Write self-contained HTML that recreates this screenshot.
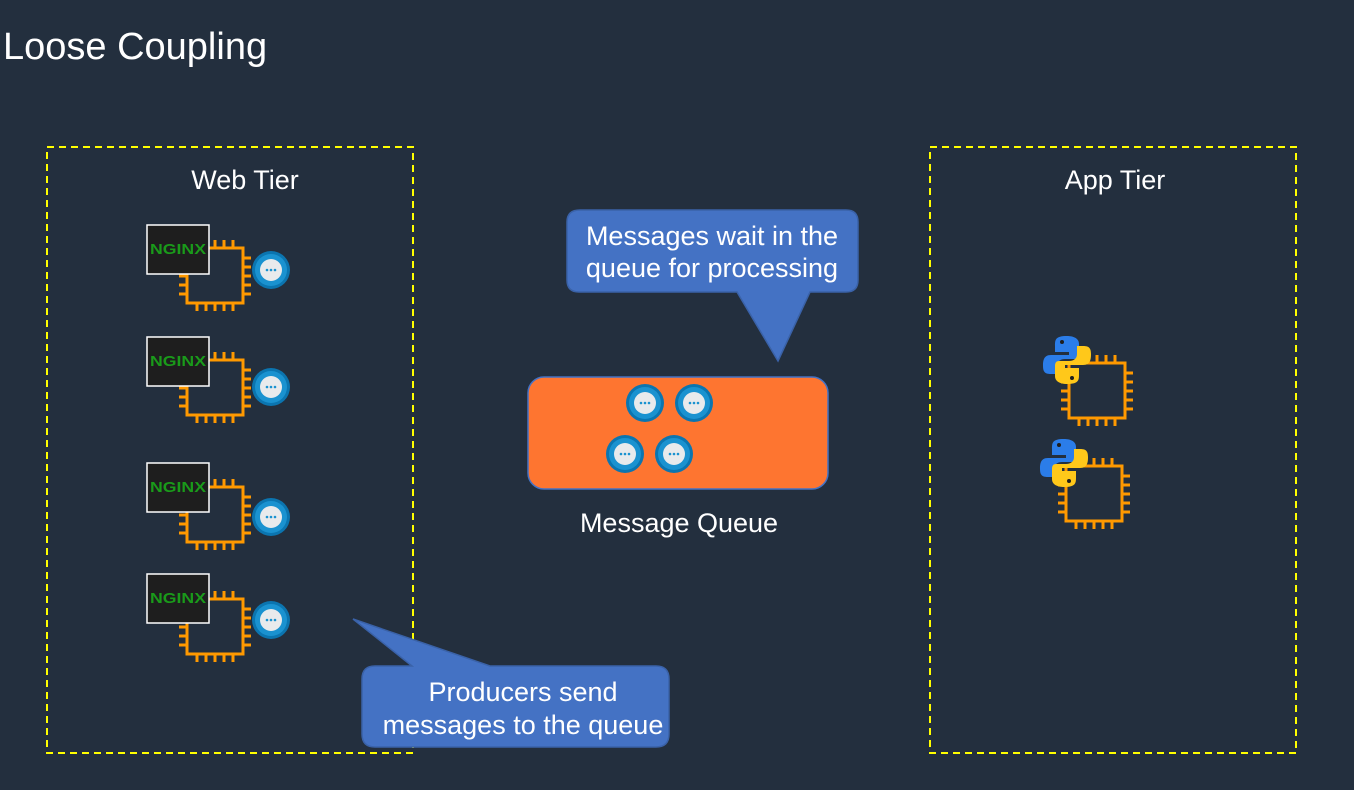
<!DOCTYPE html>
<html><head><meta charset="utf-8"><style>
html,body{margin:0;padding:0;background:#232f3e;}
svg{display:block;font-family:"Liberation Sans",Arial,sans-serif;}
</style></head><body>
<svg width="1354" height="790" viewBox="0 0 1354 790" xmlns="http://www.w3.org/2000/svg">
<defs>
<g id="chip">
  <rect x="0" y="0" width="56" height="55" fill="none" stroke="#ff9900" stroke-width="3"/>
  <g stroke="#ff9900" stroke-width="3">
    <line x1="10" y1="0" x2="10" y2="-8"/><line x1="19" y1="0" x2="19" y2="-8"/><line x1="28" y1="0" x2="28" y2="-8"/><line x1="37" y1="0" x2="37" y2="-8"/><line x1="46" y1="0" x2="46" y2="-8"/>
    <line x1="10" y1="55" x2="10" y2="63"/><line x1="19" y1="55" x2="19" y2="63"/><line x1="28" y1="55" x2="28" y2="63"/><line x1="37" y1="55" x2="37" y2="63"/><line x1="46" y1="55" x2="46" y2="63"/>
    <line x1="0" y1="10" x2="-8" y2="10"/><line x1="0" y1="19" x2="-8" y2="19"/><line x1="0" y1="28" x2="-8" y2="28"/><line x1="0" y1="37" x2="-8" y2="37"/><line x1="0" y1="46" x2="-8" y2="46"/>
    <line x1="56" y1="10" x2="64" y2="10"/><line x1="56" y1="19" x2="64" y2="19"/><line x1="56" y1="28" x2="64" y2="28"/><line x1="56" y1="37" x2="64" y2="37"/><line x1="56" y1="46" x2="64" y2="46"/>
  </g>
</g>
<g id="msg">
  <circle cx="0" cy="0" r="19" fill="#0b75b0"/>
  <circle cx="0" cy="0" r="16" fill="#1a92d0"/>
  <circle cx="0" cy="0" r="11" fill="#e8eaec"/>
  <circle cx="-4" cy="0" r="1.3" fill="#1a92d0"/><circle cx="0" cy="0" r="1.3" fill="#1a92d0"/><circle cx="4" cy="0" r="1.3" fill="#1a92d0"/>
</g>
<g id="nginx">
  <rect x="0" y="0" width="62" height="49" fill="#1e1e1e" stroke="#ffffff" stroke-width="1.5"/>
  <text x="31" y="29" font-size="15" font-weight="bold" fill="#1a9a1a" text-anchor="middle" textLength="56" lengthAdjust="spacingAndGlyphs">NGINX</text>
</g>
<g id="py">
  <path d="M0,-24 C-12,-24 -12,-20 -12,-14 L-12,-8 L2,-8 L2,-5 L-16,-5 C-24,-5 -24,2 -24,6 C-24,14 -20,14 -14,14 L-10,14 L-10,6 C-10,1 -6,-1 -2,-1 L8,-1 C11,-1 12,-3 12,-6 L12,-16 C12,-22 6,-24 0,-24 Z" fill="#2b7de9"/>
  <path d="M0,24 C12,24 12,20 12,14 L12,8 L-2,8 L-2,5 L16,5 C24,5 24,-2 24,-6 C24,-14 20,-14 14,-14 L10,-14 L10,-6 C10,-1 6,1 2,1 L-8,1 C-11,1 -12,3 -12,6 L-12,16 C-12,22 -6,24 0,24 Z" fill="#ffc81a"/>
  <circle cx="-5" cy="-18" r="2" fill="#1e1e1e"/><circle cx="5" cy="18" r="2" fill="#1e1e1e"/>
</g>
</defs>

<text x="3" y="59" font-size="38" fill="#ffffff">Loose Coupling</text>

<rect x="47" y="147" width="366" height="606" fill="none" stroke="#ffff00" stroke-width="2" stroke-dasharray="7,5"/>
<rect x="930" y="147" width="366" height="606" fill="none" stroke="#ffff00" stroke-width="2" stroke-dasharray="7,5"/>

<text x="245" y="189" font-size="27" fill="#ffffff" text-anchor="middle">Web Tier</text>
<text x="1115" y="189" font-size="27" fill="#ffffff" text-anchor="middle">App Tier</text>

<use href="#chip" x="187" y="248"/><use href="#nginx" x="147" y="225"/><use href="#msg" x="271" y="270"/>
<use href="#chip" x="187" y="360"/><use href="#nginx" x="147" y="337"/><use href="#msg" x="271" y="387"/>
<use href="#chip" x="187" y="487"/><use href="#nginx" x="147" y="463"/><use href="#msg" x="271" y="517"/>
<use href="#chip" x="187" y="599"/><use href="#nginx" x="147" y="574"/><use href="#msg" x="271" y="620"/>

<use href="#chip" x="1069" y="363"/><use href="#py" x="1067" y="360"/>
<use href="#chip" x="1066" y="466"/><use href="#py" x="1064" y="463"/>

<rect x="528" y="377" width="300" height="112" rx="16" fill="#fe7530" stroke="#4472c4" stroke-width="1.5"/>
<use href="#msg" x="645" y="403"/><use href="#msg" x="694" y="403"/>
<use href="#msg" x="625" y="454"/><use href="#msg" x="674" y="454"/>
<text x="679" y="532" font-size="27" fill="#ffffff" text-anchor="middle">Message Queue</text>

<path d="M580,210 H846 Q858,210 858,222 V280 Q858,292 846,292 H810 L778,361 L737,292 H579 Q567,292 567,280 V222 Q567,210 580,210 Z" fill="#4472c4" stroke="#3a62a8" stroke-width="1.5"/>
<text x="712" y="245" font-size="27" fill="#ffffff" text-anchor="middle">Messages wait in the</text>
<text x="712" y="277" font-size="27" fill="#ffffff" text-anchor="middle">queue for processing</text>

<path d="M375,666 H412 L353,619 L490,666 H656 Q669,666 669,679 V734 Q669,747 656,747 H375 Q362,747 362,734 V679 Q362,666 375,666 Z" fill="#4472c4" stroke="#3a62a8" stroke-width="1.5"/>
<text x="523" y="701" font-size="27" fill="#ffffff" text-anchor="middle">Producers send</text>
<text x="523" y="734" font-size="27" fill="#ffffff" text-anchor="middle">messages to the queue</text>
</svg>
</body></html>
